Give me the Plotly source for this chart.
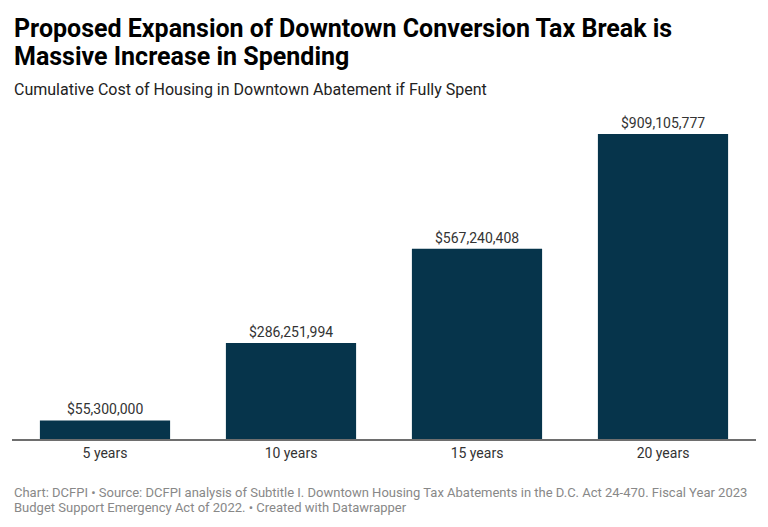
import plotly.graph_objects as go

categories = ["5 years", "10 years", "15 years", "20 years"]
values = [55300000, 286251994, 567240408, 909105777]
labels = ["$55,300,000", "$286,251,994", "$567,240,408", "$909,105,777"]

title_lines = ["Proposed Expansion of Downtown Conversion Tax Break is",
               "Massive Increase in Spending"]
subtitle = "Cumulative Cost of Housing in Downtown Abatement if Fully Spent"
footer_lines = ["Chart: DCFPI • Source: DCFPI analysis of Subtitle I. Downtown Housing Tax Abatements in the D.C. Act 24-470. Fiscal Year 2023",
                "Budget Support Emergency Act of 2022. • Created with Datawrapper"]

W, H = 768, 527
top, bottom = 120, 439
ph = bottom - top

def py(p):
    return (bottom - p) / ph

fig = go.Figure(go.Bar(
    x=categories, y=values,
    marker=dict(color="#06344b", line=dict(width=0)),
    cliponaxis=False, hoverinfo="skip",
))

value_annotations = [
    dict(x=c, y=v, xref="x", yref="y", text=t, showarrow=False,
         yanchor="bottom", yshift=1,
         font=dict(family="Roboto", size=14, color="#333333"))
    for c, v, t in zip(categories, values, labels)
]

def text_ann(text, ypix, size, color, bold=False):
    return dict(xref="paper", yref="paper", x=0, y=py(ypix), xanchor="left", yanchor="middle",
                text=f"<b>{text}</b>" if bold else text, showarrow=False, align="left",
                font=dict(family="Roboto", size=size, color=color))

fig.update_layout(
    width=W, height=H,
    margin=dict(l=12, r=12, t=top, b=H - bottom, pad=0),
    paper_bgcolor="white", plot_bgcolor="white",
    bargap=0.3, showlegend=False,
    font=dict(family="Roboto", color="#333333"),
    xaxis=dict(showgrid=False, showline=True, linecolor="#6e6e6e", linewidth=2,
               ticks="", tickfont=dict(family="Roboto", size=14, color="#333333"),
               fixedrange=True),
    yaxis=dict(range=[0, 909105777 * ph / 305], visible=False, fixedrange=True),
    annotations=value_annotations + [
        text_ann(title_lines[0], 28, 25, "#000000", bold=True),
        text_ann(title_lines[1], 56, 25, "#000000", bold=True),
        text_ann(subtitle, 90, 16, "#222222"),
        text_ann(footer_lines[0], 492, 13, "#888888"),
        text_ann(footer_lines[1], 508, 13, "#888888"),
    ],
)

fig.write_html("out.html", config={"displayModeBar": False},
               post_script="document.body.style.margin='0';document.body.style.overflow='hidden';")
